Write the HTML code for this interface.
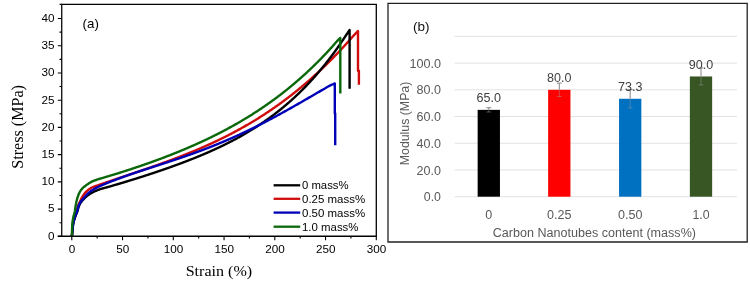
<!DOCTYPE html><html><head><meta charset="utf-8"><style>html,body{margin:0;padding:0;background:#fff;width:750px;height:284px;overflow:hidden}svg{display:block;will-change:transform}</style></head><body>
<svg width="750" height="284" viewBox="0 0 750 284">
<rect width="750" height="284" fill="#fff"/>
<g font-family="Liberation Sans, sans-serif" font-size="11" fill="#000">
<path d="M71.90,236.30 L71.99,235.18 L72.06,234.03 L72.13,232.87 L72.20,231.70 L72.26,230.54 L72.33,229.38 L72.41,228.23 L72.50,227.11 L72.59,226.02 L72.71,224.96 L72.84,223.95 L73.00,223.00 L73.13,222.33 L73.28,221.68 L73.43,221.04 L73.60,220.43 L73.77,219.83 L73.95,219.25 L74.13,218.68 L74.31,218.12 L74.49,217.58 L74.66,217.04 L74.83,216.52 L75.00,216.00 L75.13,215.60 L75.26,215.21 L75.38,214.84 L75.51,214.48 L75.64,214.12 L75.76,213.77 L75.89,213.42 L76.01,213.07 L76.14,212.72 L76.26,212.35 L76.38,211.98 L76.50,211.60 L76.63,211.16 L76.75,210.70 L76.87,210.23 L76.99,209.76 L77.10,209.28 L77.22,208.80 L77.33,208.32 L77.46,207.84 L77.58,207.36 L77.71,206.90 L77.85,206.44 L78.00,206.00 L78.15,205.60 L78.30,205.21 L78.45,204.83 L78.62,204.45 L78.78,204.08 L78.95,203.70 L79.12,203.34 L79.30,202.97 L79.47,202.60 L79.65,202.24 L79.82,201.87 L80.00,201.50 L80.17,201.13 L80.34,200.76 L80.51,200.39 L80.68,200.03 L80.86,199.66 L81.03,199.30 L81.21,198.93 L81.39,198.57 L81.58,198.20 L81.78,197.83 L81.98,197.47 L82.20,197.10 L82.45,196.69 L82.70,196.28 L82.96,195.86 L83.22,195.44 L83.50,195.02 L83.78,194.60 L84.07,194.18 L84.37,193.77 L84.68,193.37 L85.01,192.97 L85.35,192.58 L85.70,192.20 L86.10,191.79 L86.53,191.39 L86.96,190.99 L87.42,190.59 L87.89,190.20 L88.37,189.82 L88.86,189.45 L89.36,189.09 L89.86,188.75 L90.37,188.42 L90.89,188.10 L91.40,187.80 L91.92,187.52 L92.46,187.26 L93.00,187.02 L93.56,186.80 L94.13,186.58 L94.70,186.38 L95.26,186.18 L95.83,185.99 L96.39,185.81 L96.94,185.63 L97.48,185.44 L98.00,185.26 L98.44,185.10 L98.87,184.94 L99.30,184.79 L99.72,184.65 L100.13,184.50 L100.54,184.36 L100.95,184.23 L101.36,184.09 L101.77,183.95 L102.17,183.81 L102.59,183.67 L103.00,183.53 L103.42,183.38 L103.83,183.24 L104.25,183.10 L104.67,182.96 L105.08,182.81 L105.50,182.67 L105.92,182.53 L106.33,182.39 L106.75,182.24 L107.17,182.10 L107.58,181.96 L108.00,181.82 L108.42,181.68 L108.83,181.53 L109.25,181.39 L109.67,181.25 L110.08,181.11 L110.50,180.97 L110.92,180.83 L111.33,180.68 L111.75,180.54 L112.17,180.40 L112.58,180.26 L113.00,180.12 L113.42,179.98 L113.83,179.84 L114.25,179.70 L114.67,179.56 L115.08,179.42 L115.50,179.28 L115.92,179.14 L116.33,178.99 L116.75,178.85 L117.17,178.71 L117.58,178.57 L118.00,178.43 L118.42,178.29 L118.83,178.15 L119.25,178.01 L119.67,177.87 L120.08,177.73 L120.50,177.59 L120.92,177.45 L121.33,177.31 L121.75,177.17 L122.17,177.03 L122.58,176.89 L123.00,176.75 L123.42,176.61 L123.83,176.47 L124.25,176.33 L124.67,176.19 L125.08,176.05 L125.50,175.91 L125.92,175.77 L126.33,175.63 L126.75,175.49 L127.17,175.35 L127.58,175.21 L128.00,175.07 L128.42,174.93 L128.83,174.79 L129.25,174.65 L129.67,174.51 L130.08,174.37 L130.50,174.23 L130.92,174.09 L131.33,173.95 L131.75,173.81 L132.17,173.67 L132.58,173.53 L133.00,173.39 L133.42,173.25 L133.83,173.11 L134.25,172.96 L134.67,172.82 L135.08,172.68 L135.50,172.54 L135.92,172.40 L136.33,172.26 L136.75,172.12 L137.17,171.98 L137.58,171.84 L138.00,171.70 L138.42,171.55 L138.83,171.41 L139.25,171.27 L139.67,171.13 L140.08,170.99 L140.50,170.85 L140.92,170.70 L141.33,170.56 L141.75,170.42 L142.17,170.28 L142.58,170.14 L143.00,169.99 L143.42,169.85 L143.83,169.71 L144.25,169.56 L144.67,169.42 L145.08,169.28 L145.50,169.14 L145.92,168.99 L146.33,168.85 L146.75,168.71 L147.17,168.56 L147.58,168.42 L148.00,168.27 L148.42,168.13 L148.83,167.99 L149.25,167.84 L149.67,167.70 L150.08,167.55 L150.50,167.41 L150.92,167.26 L151.33,167.12 L151.75,166.97 L152.17,166.83 L152.58,166.68 L153.00,166.54 L153.42,166.39 L153.83,166.24 L154.25,166.10 L154.67,165.95 L155.08,165.81 L155.50,165.66 L155.92,165.51 L156.33,165.37 L156.75,165.22 L157.17,165.07 L157.58,164.92 L158.00,164.78 L158.42,164.63 L158.83,164.48 L159.25,164.33 L159.67,164.18 L160.08,164.03 L160.50,163.88 L160.92,163.73 L161.33,163.59 L161.75,163.44 L162.17,163.29 L162.58,163.14 L163.00,162.99 L163.42,162.83 L163.83,162.68 L164.25,162.53 L164.67,162.38 L165.08,162.23 L165.50,162.08 L165.92,161.93 L166.33,161.77 L166.75,161.62 L167.17,161.47 L167.58,161.32 L168.00,161.16 L168.42,161.01 L168.83,160.86 L169.25,160.70 L169.67,160.55 L170.08,160.39 L170.50,160.24 L170.92,160.08 L171.33,159.93 L171.75,159.77 L172.17,159.62 L172.58,159.46 L173.00,159.31 L173.42,159.15 L173.83,158.99 L174.25,158.84 L174.67,158.68 L175.08,158.52 L175.50,158.36 L175.92,158.20 L176.33,158.05 L176.75,157.89 L177.17,157.73 L177.58,157.57 L178.00,157.41 L178.42,157.25 L178.83,157.09 L179.25,156.93 L179.67,156.77 L180.08,156.60 L180.50,156.44 L180.92,156.28 L181.33,156.12 L181.75,155.96 L182.17,155.79 L182.58,155.63 L183.00,155.47 L183.42,155.30 L183.83,155.14 L184.25,154.97 L184.67,154.81 L185.08,154.64 L185.50,154.48 L185.92,154.31 L186.33,154.14 L186.75,153.98 L187.17,153.81 L187.58,153.64 L188.00,153.48 L188.42,153.31 L188.83,153.14 L189.25,152.97 L189.67,152.80 L190.08,152.63 L190.50,152.46 L190.92,152.29 L191.33,152.12 L191.75,151.95 L192.17,151.78 L192.58,151.61 L193.00,151.43 L193.42,151.26 L193.83,151.09 L194.25,150.91 L194.67,150.74 L195.08,150.57 L195.50,150.39 L195.92,150.22 L196.33,150.04 L196.75,149.87 L197.17,149.69 L197.58,149.51 L198.00,149.34 L198.42,149.16 L198.83,148.98 L199.25,148.80 L199.67,148.62 L200.08,148.44 L200.50,148.27 L200.92,148.09 L201.33,147.90 L201.75,147.72 L202.17,147.54 L202.58,147.36 L203.00,147.18 L203.42,147.00 L203.83,146.81 L204.25,146.63 L204.67,146.45 L205.08,146.26 L205.50,146.08 L205.92,145.89 L206.33,145.71 L206.75,145.52 L207.17,145.33 L207.58,145.15 L208.00,144.96 L208.42,144.77 L208.83,144.58 L209.25,144.39 L209.67,144.20 L210.08,144.01 L210.50,143.82 L210.92,143.63 L211.33,143.44 L211.75,143.25 L212.17,143.06 L212.58,142.86 L213.00,142.67 L213.42,142.48 L213.83,142.28 L214.25,142.09 L214.67,141.89 L215.09,141.69 L215.50,141.50 L215.92,141.30 L216.33,141.10 L216.75,140.91 L217.17,140.71 L217.58,140.51 L218.00,140.31 L218.42,140.11 L218.83,139.91 L219.25,139.71 L219.67,139.51 L220.09,139.30 L220.50,139.10 L220.92,138.90 L221.34,138.69 L221.75,138.49 L222.17,138.28 L222.58,138.08 L223.00,137.87 L223.42,137.67 L223.83,137.46 L224.25,137.25 L224.67,137.04 L225.09,136.84 L225.50,136.63 L225.92,136.42 L226.34,136.21 L226.75,136.00 L227.17,135.78 L227.58,135.57 L228.00,135.36 L228.42,135.15 L228.83,134.93 L229.25,134.72 L229.67,134.50 L230.09,134.29 L230.50,134.07 L230.92,133.85 L231.34,133.64 L231.75,133.42 L232.17,133.20 L232.58,132.98 L233.00,132.76 L233.42,132.54 L233.83,132.32 L234.25,132.10 L234.67,131.88 L235.09,131.65 L235.50,131.43 L235.92,131.21 L236.34,130.98 L236.75,130.76 L237.17,130.53 L237.58,130.31 L238.00,130.08 L238.42,129.85 L238.83,129.62 L239.25,129.39 L239.67,129.16 L240.09,128.93 L240.50,128.70 L240.92,128.47 L241.34,128.24 L241.75,128.01 L242.17,127.77 L242.58,127.54 L243.00,127.31 L243.42,127.07 L243.83,126.83 L244.25,126.60 L244.67,126.36 L245.09,126.12 L245.50,125.88 L245.92,125.64 L246.34,125.40 L246.75,125.16 L247.17,124.92 L247.58,124.68 L248.00,124.44 L248.42,124.20 L248.83,123.95 L249.25,123.71 L249.67,123.46 L250.09,123.21 L250.50,122.97 L250.92,122.72 L251.34,122.47 L251.75,122.22 L252.17,121.97 L252.58,121.73 L253.00,121.47 L253.42,121.22 L253.83,120.97 L254.25,120.72 L254.67,120.46 L255.09,120.21 L255.50,119.95 L255.92,119.70 L256.34,119.44 L256.75,119.18 L257.17,118.93 L257.58,118.67 L258.00,118.41 L258.42,118.15 L258.83,117.89 L259.25,117.62 L259.67,117.36 L260.09,117.10 L260.50,116.84 L260.92,116.57 L261.34,116.31 L261.75,116.04 L262.17,115.77 L262.58,115.51 L263.00,115.24 L263.42,114.97 L263.84,114.70 L264.25,114.43 L264.67,114.16 L265.09,113.88 L265.50,113.61 L265.92,113.34 L266.34,113.06 L266.75,112.79 L267.17,112.51 L267.58,112.24 L268.00,111.96 L268.42,111.68 L268.84,111.40 L269.25,111.12 L269.67,110.84 L270.09,110.56 L270.50,110.28 L270.92,109.99 L271.34,109.71 L271.75,109.43 L272.17,109.14 L272.58,108.85 L273.00,108.57 L273.42,108.28 L273.84,107.99 L274.25,107.70 L274.67,107.41 L275.09,107.12 L275.50,106.83 L275.92,106.54 L276.34,106.24 L276.75,105.95 L277.17,105.65 L277.58,105.36 L278.00,105.06 L278.42,104.76 L278.84,104.47 L279.25,104.17 L279.67,103.87 L280.09,103.56 L280.50,103.26 L280.92,102.96 L281.34,102.66 L281.75,102.35 L282.17,102.05 L282.58,101.74 L283.00,101.44 L283.42,101.13 L283.84,100.82 L284.25,100.51 L284.67,100.20 L285.09,99.89 L285.50,99.58 L285.92,99.26 L286.34,98.95 L286.75,98.64 L287.17,98.32 L287.58,98.01 L288.00,97.69 L288.42,97.37 L288.84,97.05 L289.25,96.73 L289.67,96.41 L290.09,96.09 L290.50,95.77 L290.92,95.44 L291.34,95.12 L291.75,94.79 L292.17,94.47 L292.58,94.14 L293.00,93.82 L293.42,93.49 L293.84,93.16 L294.25,92.83 L294.67,92.49 L295.09,92.16 L295.50,91.83 L295.92,91.49 L296.34,91.16 L296.75,90.82 L297.17,90.49 L297.58,90.15 L298.00,89.81 L298.42,89.47 L298.84,89.13 L299.25,88.79 L299.67,88.45 L300.09,88.10 L300.50,87.76 L300.92,87.41 L301.34,87.07 L301.75,86.72 L302.17,86.37 L302.58,86.03 L303.00,85.68 L303.42,85.33 L303.84,84.97 L304.25,84.62 L304.67,84.27 L305.09,83.91 L305.50,83.55 L305.92,83.20 L306.34,82.84 L306.75,82.48 L307.17,82.12 L307.58,81.77 L308.00,81.41 L308.42,81.04 L308.84,80.68 L309.25,80.31 L309.67,79.95 L310.09,79.58 L310.50,79.21 L310.92,78.84 L311.34,78.48 L311.75,78.11 L312.17,77.74 L312.58,77.37 L313.00,76.99 L313.42,76.62 L313.84,76.24 L314.25,75.87 L314.67,75.49 L315.09,75.11 L315.50,74.73 L315.92,74.35 L316.34,73.97 L316.75,73.59 L317.17,73.21 L317.58,72.82 L318.00,72.44 L318.42,72.05 L318.84,71.66 L319.25,71.27 L319.67,70.88 L320.09,70.49 L320.50,70.10 L320.92,69.71 L321.34,69.32 L321.75,68.92 L322.17,68.53 L322.58,68.13 L323.00,67.74 L323.42,67.34 L323.84,66.94 L324.25,66.54 L324.67,66.13 L325.09,65.73 L325.50,65.33 L325.92,64.92 L326.34,64.52 L326.75,64.11 L327.17,63.70 L327.58,63.30 L328.00,62.89 L328.42,62.47 L328.84,62.06 L329.25,61.65 L329.67,61.23 L330.09,60.82 L330.50,60.40 L330.92,59.98 L331.34,59.56 L331.75,59.14 L332.17,58.73 L332.58,58.30 L333.00,57.88 L333.42,57.46 L333.84,57.03 L334.25,56.60 L334.67,56.18 L335.09,55.75 L335.50,55.32 L335.92,54.89 L336.34,54.46 L336.75,54.02 L337.17,53.59 L337.58,53.16 L338.00,52.72 L338.42,52.28 L338.84,51.85 L339.25,51.40 L339.67,50.96 L340.09,50.52 L340.51,50.08 L340.92,49.63 L341.34,49.19 L341.75,48.74 L342.17,48.30 L342.58,47.85 L343.00,47.40 L343.42,46.95 L343.84,46.50 L344.25,46.04 L344.67,45.59 L345.09,45.13 L345.51,44.68 L345.92,44.22 L346.34,43.76 L346.75,43.30 L347.17,42.84 L347.58,42.38 L348.00,41.92 L348.42,41.45 L348.83,40.98 L349.25,40.51 L349.67,40.04 L350.08,39.56 L350.50,39.09 L350.91,38.61 L351.33,38.14 L351.74,37.67 L352.16,37.20 L352.58,36.74 L353.00,36.27 L353.41,35.83 L353.83,35.38 L354.24,34.94 L354.66,34.50 L355.08,34.06 L355.49,33.62 L355.91,33.18 L356.33,32.75 L356.75,32.31 L357.17,31.88 L357.58,31.44 L358.00,31.00 L358.00,70.70 L358.90,70.70 L358.90,84.80" fill="none" stroke="#d00c0c" stroke-width="2.4" stroke-linejoin="round" stroke-linecap="butt"/>
<path d="M71.90,236.30 L72.02,235.18 L72.13,234.03 L72.24,232.87 L72.34,231.70 L72.45,230.54 L72.55,229.37 L72.67,228.23 L72.79,227.11 L72.92,226.02 L73.06,224.96 L73.22,223.95 L73.40,223.00 L73.55,222.33 L73.70,221.67 L73.86,221.04 L74.03,220.43 L74.21,219.83 L74.39,219.24 L74.57,218.67 L74.76,218.12 L74.94,217.57 L75.13,217.04 L75.32,216.52 L75.50,216.00 L75.65,215.60 L75.80,215.21 L75.95,214.84 L76.10,214.47 L76.26,214.12 L76.41,213.77 L76.56,213.42 L76.72,213.07 L76.87,212.72 L77.01,212.36 L77.16,211.98 L77.30,211.60 L77.45,211.16 L77.59,210.69 L77.73,210.22 L77.86,209.74 L77.99,209.25 L78.12,208.76 L78.26,208.28 L78.39,207.80 L78.53,207.32 L78.68,206.86 L78.83,206.42 L79.00,206.00 L79.15,205.66 L79.29,205.32 L79.44,205.00 L79.60,204.68 L79.75,204.37 L79.92,204.07 L80.08,203.77 L80.25,203.47 L80.43,203.18 L80.61,202.89 L80.80,202.59 L81.00,202.30 L81.21,201.99 L81.44,201.69 L81.67,201.40 L81.90,201.10 L82.14,200.81 L82.39,200.52 L82.65,200.23 L82.91,199.95 L83.17,199.66 L83.44,199.37 L83.72,199.09 L84.00,198.80 L84.32,198.48 L84.65,198.15 L84.98,197.83 L85.32,197.50 L85.67,197.17 L86.03,196.85 L86.39,196.53 L86.76,196.21 L87.13,195.90 L87.51,195.59 L87.90,195.29 L88.30,195.00 L88.73,194.69 L89.18,194.39 L89.64,194.10 L90.10,193.81 L90.58,193.53 L91.06,193.25 L91.54,192.98 L92.03,192.71 L92.52,192.45 L93.02,192.19 L93.51,191.94 L94.00,191.70 L94.49,191.46 L94.99,191.23 L95.49,191.00 L95.99,190.78 L96.50,190.56 L97.01,190.35 L97.51,190.15 L98.02,189.95 L98.52,189.76 L99.02,189.57 L99.51,189.40 L100.00,189.23 L100.43,189.08 L100.85,188.95 L101.27,188.83 L101.69,188.71 L102.11,188.59 L102.52,188.48 L102.93,188.38 L103.35,188.27 L103.76,188.17 L104.17,188.06 L104.58,187.95 L105.00,187.84 L105.42,187.72 L105.83,187.60 L106.25,187.48 L106.67,187.37 L107.08,187.25 L107.50,187.13 L107.92,187.01 L108.33,186.89 L108.75,186.77 L109.17,186.65 L109.58,186.54 L110.00,186.42 L110.42,186.30 L110.83,186.18 L111.25,186.06 L111.67,185.94 L112.08,185.82 L112.50,185.70 L112.92,185.57 L113.33,185.45 L113.75,185.33 L114.17,185.21 L114.58,185.09 L115.00,184.97 L115.42,184.85 L115.83,184.72 L116.25,184.60 L116.67,184.48 L117.08,184.36 L117.50,184.23 L117.92,184.11 L118.33,183.99 L118.75,183.87 L119.17,183.74 L119.58,183.62 L120.00,183.49 L120.42,183.37 L120.83,183.25 L121.25,183.12 L121.67,183.00 L122.08,182.87 L122.50,182.75 L122.92,182.62 L123.33,182.50 L123.75,182.37 L124.17,182.25 L124.58,182.12 L125.00,181.99 L125.42,181.87 L125.83,181.74 L126.25,181.62 L126.67,181.49 L127.08,181.36 L127.50,181.23 L127.92,181.11 L128.33,180.98 L128.75,180.85 L129.17,180.72 L129.58,180.60 L130.00,180.47 L130.42,180.34 L130.83,180.21 L131.25,180.08 L131.67,179.95 L132.08,179.83 L132.50,179.70 L132.92,179.57 L133.33,179.44 L133.75,179.31 L134.17,179.18 L134.58,179.05 L135.00,178.92 L135.42,178.79 L135.83,178.66 L136.25,178.53 L136.67,178.40 L137.08,178.26 L137.50,178.13 L137.92,178.00 L138.33,177.87 L138.75,177.74 L139.17,177.61 L139.58,177.47 L140.00,177.34 L140.42,177.21 L140.83,177.08 L141.25,176.94 L141.67,176.81 L142.08,176.68 L142.50,176.54 L142.92,176.41 L143.33,176.28 L143.75,176.14 L144.17,176.01 L144.58,175.87 L145.00,175.74 L145.42,175.60 L145.83,175.47 L146.25,175.33 L146.67,175.20 L147.08,175.06 L147.50,174.93 L147.92,174.79 L148.33,174.65 L148.75,174.52 L149.17,174.38 L149.58,174.24 L150.00,174.11 L150.42,173.97 L150.83,173.83 L151.25,173.69 L151.67,173.56 L152.08,173.42 L152.50,173.28 L152.92,173.14 L153.33,173.00 L153.75,172.86 L154.17,172.73 L154.58,172.59 L155.00,172.45 L155.42,172.31 L155.83,172.17 L156.25,172.03 L156.67,171.89 L157.08,171.75 L157.50,171.61 L157.92,171.46 L158.33,171.32 L158.75,171.18 L159.17,171.04 L159.58,170.90 L160.00,170.76 L160.42,170.61 L160.83,170.47 L161.25,170.33 L161.67,170.19 L162.08,170.04 L162.50,169.90 L162.92,169.76 L163.33,169.61 L163.75,169.47 L164.17,169.32 L164.58,169.18 L165.00,169.03 L165.42,168.89 L165.83,168.74 L166.25,168.60 L166.67,168.45 L167.08,168.30 L167.50,168.16 L167.92,168.01 L168.33,167.86 L168.75,167.72 L169.17,167.57 L169.58,167.42 L170.00,167.27 L170.42,167.13 L170.83,166.98 L171.25,166.83 L171.67,166.68 L172.08,166.53 L172.50,166.38 L172.92,166.23 L173.33,166.08 L173.75,165.93 L174.17,165.78 L174.58,165.63 L175.00,165.48 L175.42,165.32 L175.83,165.17 L176.25,165.02 L176.67,164.87 L177.08,164.71 L177.50,164.56 L177.92,164.41 L178.33,164.25 L178.75,164.10 L179.17,163.95 L179.58,163.79 L180.00,163.64 L180.42,163.48 L180.83,163.33 L181.25,163.17 L181.67,163.01 L182.08,162.86 L182.50,162.70 L182.92,162.54 L183.33,162.39 L183.75,162.23 L184.17,162.07 L184.58,161.91 L185.00,161.75 L185.42,161.59 L185.83,161.43 L186.25,161.27 L186.67,161.11 L187.08,160.95 L187.50,160.79 L187.92,160.63 L188.33,160.47 L188.75,160.31 L189.17,160.14 L189.58,159.98 L190.00,159.82 L190.42,159.65 L190.83,159.49 L191.25,159.33 L191.67,159.16 L192.08,159.00 L192.50,158.83 L192.92,158.67 L193.33,158.50 L193.75,158.33 L194.17,158.17 L194.58,158.00 L195.00,157.83 L195.42,157.66 L195.83,157.49 L196.25,157.32 L196.67,157.16 L197.08,156.99 L197.50,156.82 L197.92,156.64 L198.33,156.47 L198.75,156.30 L199.17,156.13 L199.58,155.96 L200.00,155.79 L200.42,155.61 L200.83,155.44 L201.25,155.26 L201.67,155.09 L202.08,154.91 L202.50,154.74 L202.92,154.56 L203.33,154.39 L203.75,154.21 L204.17,154.03 L204.58,153.85 L205.00,153.68 L205.42,153.50 L205.83,153.32 L206.25,153.14 L206.67,152.96 L207.08,152.78 L207.50,152.60 L207.92,152.41 L208.33,152.23 L208.75,152.05 L209.17,151.87 L209.58,151.68 L210.00,151.50 L210.42,151.31 L210.83,151.13 L211.25,150.94 L211.67,150.76 L212.09,150.57 L212.50,150.38 L212.92,150.19 L213.33,150.00 L213.75,149.82 L214.17,149.63 L214.58,149.44 L215.00,149.25 L215.42,149.05 L215.83,148.86 L216.25,148.67 L216.67,148.48 L217.09,148.28 L217.50,148.09 L217.92,147.89 L218.34,147.70 L218.75,147.50 L219.17,147.31 L219.58,147.11 L220.00,146.91 L220.42,146.71 L220.83,146.51 L221.25,146.31 L221.67,146.11 L222.09,145.91 L222.50,145.71 L222.92,145.51 L223.34,145.31 L223.75,145.10 L224.17,144.90 L224.58,144.70 L225.00,144.49 L225.42,144.29 L225.83,144.08 L226.25,143.87 L226.67,143.66 L227.09,143.45 L227.50,143.24 L227.92,143.03 L228.34,142.82 L228.75,142.61 L229.17,142.40 L229.58,142.19 L230.00,141.98 L230.42,141.76 L230.83,141.55 L231.25,141.33 L231.67,141.11 L232.09,140.90 L232.50,140.68 L232.92,140.46 L233.34,140.24 L233.75,140.02 L234.17,139.80 L234.58,139.58 L235.00,139.36 L235.42,139.14 L235.83,138.91 L236.25,138.69 L236.67,138.46 L237.09,138.24 L237.50,138.01 L237.92,137.78 L238.34,137.55 L238.75,137.33 L239.17,137.10 L239.58,136.87 L240.00,136.63 L240.42,136.40 L240.84,136.17 L241.25,135.93 L241.67,135.70 L242.09,135.46 L242.50,135.23 L242.92,134.99 L243.34,134.75 L243.75,134.51 L244.17,134.27 L244.58,134.03 L245.00,133.79 L245.42,133.55 L245.84,133.30 L246.25,133.06 L246.67,132.81 L247.09,132.57 L247.50,132.32 L247.92,132.07 L248.34,131.83 L248.75,131.58 L249.17,131.33 L249.58,131.08 L250.00,130.82 L250.42,130.57 L250.84,130.32 L251.25,130.06 L251.67,129.80 L252.09,129.55 L252.50,129.29 L252.92,129.03 L253.34,128.77 L253.75,128.51 L254.17,128.25 L254.58,127.98 L255.00,127.72 L255.42,127.46 L255.84,127.19 L256.25,126.92 L256.67,126.65 L257.09,126.38 L257.50,126.11 L257.92,125.84 L258.34,125.57 L258.75,125.30 L259.17,125.03 L259.58,124.75 L260.00,124.48 L260.42,124.20 L260.84,123.92 L261.25,123.64 L261.67,123.36 L262.09,123.08 L262.50,122.79 L262.92,122.51 L263.34,122.23 L263.75,121.94 L264.17,121.65 L264.58,121.37 L265.00,121.08 L265.42,120.79 L265.84,120.49 L266.25,120.20 L266.67,119.91 L267.09,119.61 L267.50,119.32 L267.92,119.02 L268.34,118.72 L268.75,118.42 L269.17,118.12 L269.58,117.82 L270.00,117.52 L270.42,117.21 L270.84,116.91 L271.25,116.60 L271.67,116.29 L272.09,115.98 L272.51,115.67 L272.92,115.36 L273.34,115.05 L273.75,114.73 L274.17,114.42 L274.58,114.10 L275.00,113.79 L275.42,113.46 L275.84,113.14 L276.25,112.82 L276.67,112.50 L277.09,112.17 L277.51,111.85 L277.92,111.52 L278.34,111.19 L278.75,110.86 L279.17,110.53 L279.59,110.20 L280.00,109.87 L280.42,109.53 L280.84,109.20 L281.25,108.86 L281.67,108.52 L282.09,108.18 L282.51,107.83 L282.92,107.49 L283.34,107.15 L283.75,106.80 L284.17,106.46 L284.59,106.11 L285.00,105.76 L285.42,105.41 L285.84,105.05 L286.25,104.70 L286.67,104.34 L287.09,103.98 L287.51,103.62 L287.92,103.26 L288.34,102.90 L288.75,102.54 L289.17,102.17 L289.59,101.81 L290.00,101.44 L290.42,101.07 L290.84,100.70 L291.26,100.33 L291.67,99.95 L292.09,99.58 L292.51,99.20 L292.92,98.82 L293.34,98.44 L293.76,98.06 L294.17,97.68 L294.59,97.30 L295.00,96.91 L295.42,96.52 L295.84,96.13 L296.26,95.74 L296.67,95.34 L297.09,94.95 L297.51,94.55 L297.92,94.16 L298.34,93.76 L298.76,93.36 L299.17,92.96 L299.59,92.55 L300.00,92.15 L300.42,91.74 L300.84,91.33 L301.26,90.92 L301.67,90.50 L302.09,90.09 L302.51,89.67 L302.92,89.25 L303.34,88.84 L303.76,88.42 L304.17,87.99 L304.59,87.57 L305.00,87.15 L305.42,86.72 L305.84,86.29 L306.26,85.85 L306.67,85.42 L307.09,84.98 L307.51,84.54 L307.92,84.11 L308.34,83.67 L308.76,83.22 L309.17,82.78 L309.59,82.34 L310.00,81.89 L310.42,81.44 L310.84,80.99 L311.26,80.53 L311.67,80.07 L312.09,79.61 L312.51,79.16 L312.92,78.69 L313.34,78.23 L313.76,77.77 L314.17,77.30 L314.59,76.84 L315.00,76.37 L315.42,75.89 L315.84,75.42 L316.26,74.94 L316.67,74.46 L317.09,73.98 L317.51,73.49 L317.93,73.01 L318.34,72.52 L318.76,72.04 L319.17,71.55 L319.59,71.06 L320.00,70.57 L320.42,70.07 L320.84,69.56 L321.26,69.06 L321.67,68.56 L322.09,68.05 L322.51,67.54 L322.93,67.03 L323.34,66.52 L323.76,66.01 L324.17,65.50 L324.59,64.98 L325.00,64.47 L325.42,63.94 L325.84,63.41 L326.26,62.89 L326.68,62.36 L327.09,61.82 L327.51,61.29 L327.93,60.76 L328.34,60.22 L328.76,59.68 L329.17,59.14 L329.59,58.60 L330.00,58.06 L330.42,57.51 L330.84,56.96 L331.26,56.40 L331.68,55.84 L332.09,55.28 L332.51,54.72 L332.93,54.16 L333.34,53.60 L333.76,53.04 L334.17,52.47 L334.59,51.90 L335.00,51.33 L335.42,50.75 L335.84,50.17 L336.26,49.59 L336.68,49.00 L337.09,48.42 L337.51,47.83 L337.93,47.24 L338.34,46.65 L338.76,46.05 L339.17,45.46 L339.59,44.86 L340.00,44.27 L340.42,43.65 L340.84,43.04 L341.26,42.42 L341.68,41.80 L342.10,41.18 L342.52,40.55 L342.94,39.93 L343.35,39.31 L343.77,38.68 L344.18,38.07 L344.59,37.45 L345.00,36.85 L345.39,36.27 L345.78,35.69 L346.16,35.11 L346.55,34.54 L346.93,33.97 L347.31,33.41 L347.69,32.84 L348.07,32.27 L348.45,31.70 L348.84,31.14 L349.22,30.57 L349.60,30.00 L349.60,88.80" fill="none" stroke="#000000" stroke-width="2.4" stroke-linejoin="round" stroke-linecap="butt"/>
<path d="M71.90,236.30 L72.01,235.18 L72.12,234.03 L72.21,232.87 L72.31,231.70 L72.41,230.54 L72.51,229.38 L72.61,228.23 L72.72,227.11 L72.84,226.02 L72.98,224.96 L73.13,223.95 L73.30,223.00 L73.44,222.33 L73.58,221.68 L73.74,221.04 L73.90,220.43 L74.07,219.83 L74.24,219.24 L74.42,218.68 L74.59,218.12 L74.77,217.57 L74.95,217.04 L75.13,216.52 L75.30,216.00 L75.44,215.60 L75.58,215.21 L75.73,214.84 L75.87,214.47 L76.02,214.12 L76.16,213.77 L76.31,213.42 L76.45,213.07 L76.59,212.72 L76.73,212.36 L76.87,211.98 L77.00,211.60 L77.14,211.16 L77.28,210.70 L77.40,210.23 L77.53,209.75 L77.65,209.26 L77.77,208.78 L77.90,208.29 L78.02,207.81 L78.16,207.34 L78.29,206.88 L78.44,206.43 L78.60,206.00 L78.74,205.64 L78.89,205.28 L79.04,204.93 L79.19,204.59 L79.35,204.25 L79.51,203.92 L79.68,203.59 L79.85,203.27 L80.02,202.95 L80.21,202.63 L80.40,202.32 L80.60,202.00 L80.81,201.68 L81.04,201.36 L81.27,201.05 L81.51,200.75 L81.75,200.45 L82.00,200.15 L82.26,199.85 L82.52,199.54 L82.79,199.24 L83.05,198.93 L83.33,198.62 L83.60,198.30 L83.92,197.92 L84.24,197.54 L84.57,197.14 L84.90,196.74 L85.24,196.34 L85.58,195.93 L85.93,195.53 L86.29,195.13 L86.65,194.74 L87.02,194.35 L87.41,193.97 L87.80,193.60 L88.23,193.22 L88.67,192.84 L89.13,192.47 L89.60,192.10 L90.07,191.73 L90.56,191.38 L91.05,191.03 L91.54,190.68 L92.03,190.35 L92.52,190.02 L93.01,189.71 L93.50,189.40 L93.95,189.12 L94.41,188.85 L94.87,188.59 L95.33,188.34 L95.79,188.09 L96.25,187.86 L96.71,187.62 L97.17,187.39 L97.63,187.17 L98.09,186.95 L98.55,186.73 L99.00,186.51 L99.42,186.31 L99.84,186.12 L100.26,185.93 L100.68,185.75 L101.09,185.57 L101.51,185.40 L101.92,185.22 L102.34,185.05 L102.75,184.88 L103.17,184.71 L103.58,184.53 L104.00,184.36 L104.42,184.18 L104.83,184.01 L105.25,183.84 L105.66,183.66 L106.08,183.49 L106.50,183.32 L106.91,183.15 L107.33,182.98 L107.75,182.81 L108.17,182.64 L108.58,182.47 L109.00,182.31 L109.42,182.14 L109.83,181.97 L110.25,181.81 L110.67,181.64 L111.08,181.48 L111.50,181.32 L111.91,181.15 L112.33,180.99 L112.75,180.83 L113.17,180.67 L113.58,180.51 L114.00,180.34 L114.42,180.19 L114.83,180.03 L115.25,179.87 L115.67,179.71 L116.08,179.55 L116.50,179.39 L116.92,179.24 L117.33,179.08 L117.75,178.93 L118.17,178.77 L118.58,178.62 L119.00,178.46 L119.42,178.31 L119.83,178.15 L120.25,178.00 L120.67,177.85 L121.08,177.70 L121.50,177.55 L121.92,177.40 L122.33,177.24 L122.75,177.09 L123.17,176.94 L123.58,176.79 L124.00,176.65 L124.42,176.50 L124.83,176.35 L125.25,176.20 L125.67,176.05 L126.08,175.91 L126.50,175.76 L126.92,175.61 L127.33,175.47 L127.75,175.32 L128.17,175.18 L128.58,175.03 L129.00,174.89 L129.42,174.74 L129.83,174.60 L130.25,174.45 L130.67,174.31 L131.08,174.17 L131.50,174.02 L131.92,173.88 L132.33,173.74 L132.75,173.60 L133.17,173.46 L133.58,173.31 L134.00,173.17 L134.42,173.03 L134.83,172.89 L135.25,172.75 L135.67,172.61 L136.08,172.47 L136.50,172.33 L136.92,172.19 L137.33,172.05 L137.75,171.91 L138.17,171.77 L138.58,171.64 L139.00,171.50 L139.42,171.36 L139.83,171.22 L140.25,171.08 L140.67,170.94 L141.08,170.81 L141.50,170.67 L141.92,170.53 L142.33,170.40 L142.75,170.26 L143.17,170.12 L143.58,169.98 L144.00,169.85 L144.42,169.71 L144.83,169.57 L145.25,169.44 L145.67,169.30 L146.08,169.17 L146.50,169.03 L146.92,168.90 L147.33,168.76 L147.75,168.62 L148.17,168.49 L148.58,168.35 L149.00,168.22 L149.42,168.08 L149.83,167.95 L150.25,167.81 L150.67,167.68 L151.08,167.54 L151.50,167.41 L151.92,167.27 L152.33,167.14 L152.75,167.00 L153.17,166.87 L153.58,166.73 L154.00,166.60 L154.42,166.46 L154.83,166.33 L155.25,166.19 L155.67,166.06 L156.08,165.92 L156.50,165.79 L156.92,165.65 L157.33,165.52 L157.75,165.38 L158.17,165.25 L158.58,165.11 L159.00,164.98 L159.42,164.84 L159.83,164.71 L160.25,164.57 L160.67,164.44 L161.08,164.30 L161.50,164.17 L161.92,164.03 L162.33,163.90 L162.75,163.76 L163.17,163.63 L163.58,163.49 L164.00,163.36 L164.42,163.22 L164.83,163.09 L165.25,162.95 L165.67,162.81 L166.08,162.68 L166.50,162.54 L166.92,162.41 L167.33,162.27 L167.75,162.13 L168.17,162.00 L168.58,161.86 L169.00,161.72 L169.42,161.59 L169.83,161.45 L170.25,161.31 L170.67,161.17 L171.08,161.04 L171.50,160.90 L171.92,160.76 L172.33,160.62 L172.75,160.48 L173.17,160.35 L173.58,160.21 L174.00,160.07 L174.42,159.93 L174.83,159.79 L175.25,159.65 L175.67,159.51 L176.08,159.37 L176.50,159.23 L176.92,159.09 L177.33,158.95 L177.75,158.81 L178.17,158.67 L178.58,158.53 L179.00,158.39 L179.42,158.25 L179.83,158.11 L180.25,157.97 L180.67,157.83 L181.08,157.68 L181.50,157.54 L181.92,157.40 L182.33,157.26 L182.75,157.11 L183.17,156.97 L183.58,156.83 L184.00,156.68 L184.42,156.54 L184.83,156.40 L185.25,156.25 L185.67,156.11 L186.08,155.96 L186.50,155.82 L186.92,155.67 L187.33,155.53 L187.75,155.38 L188.17,155.23 L188.58,155.09 L189.00,154.94 L189.42,154.79 L189.83,154.65 L190.25,154.50 L190.67,154.35 L191.08,154.20 L191.50,154.05 L191.92,153.91 L192.33,153.76 L192.75,153.61 L193.17,153.46 L193.58,153.31 L194.00,153.16 L194.42,153.01 L194.83,152.86 L195.25,152.71 L195.67,152.55 L196.08,152.40 L196.50,152.25 L196.92,152.10 L197.33,151.95 L197.75,151.79 L198.17,151.64 L198.58,151.49 L199.00,151.33 L199.42,151.18 L199.83,151.02 L200.25,150.87 L200.67,150.71 L201.08,150.56 L201.50,150.40 L201.92,150.25 L202.33,150.09 L202.75,149.93 L203.17,149.77 L203.58,149.62 L204.00,149.46 L204.42,149.30 L204.83,149.14 L205.25,148.98 L205.67,148.82 L206.08,148.66 L206.50,148.50 L206.92,148.34 L207.33,148.18 L207.75,148.02 L208.17,147.86 L208.58,147.70 L209.00,147.54 L209.42,147.37 L209.83,147.21 L210.25,147.05 L210.67,146.88 L211.08,146.72 L211.50,146.55 L211.92,146.39 L212.33,146.22 L212.75,146.06 L213.17,145.89 L213.58,145.72 L214.00,145.56 L214.42,145.39 L214.83,145.22 L215.25,145.05 L215.67,144.89 L216.08,144.72 L216.50,144.55 L216.92,144.38 L217.33,144.21 L217.75,144.04 L218.17,143.87 L218.58,143.70 L219.00,143.52 L219.42,143.35 L219.83,143.18 L220.25,143.01 L220.67,142.83 L221.08,142.66 L221.50,142.49 L221.92,142.31 L222.33,142.14 L222.75,141.96 L223.17,141.79 L223.58,141.61 L224.00,141.43 L224.42,141.26 L224.83,141.08 L225.25,140.90 L225.67,140.72 L226.08,140.55 L226.50,140.37 L226.92,140.19 L227.33,140.01 L227.75,139.83 L228.17,139.65 L228.58,139.47 L229.00,139.28 L229.42,139.10 L229.83,138.92 L230.25,138.74 L230.67,138.55 L231.08,138.37 L231.50,138.19 L231.92,138.00 L232.33,137.82 L232.75,137.63 L233.17,137.45 L233.58,137.26 L234.00,137.08 L234.42,136.89 L234.83,136.70 L235.25,136.51 L235.67,136.33 L236.08,136.14 L236.50,135.95 L236.92,135.76 L237.33,135.57 L237.75,135.38 L238.17,135.19 L238.58,135.00 L239.00,134.81 L239.42,134.62 L239.83,134.42 L240.25,134.23 L240.67,134.04 L241.08,133.84 L241.50,133.65 L241.92,133.46 L242.33,133.26 L242.75,133.07 L243.17,132.87 L243.58,132.67 L244.00,132.48 L244.42,132.28 L244.83,132.08 L245.25,131.89 L245.67,131.69 L246.08,131.49 L246.50,131.29 L246.92,131.09 L247.33,130.89 L247.75,130.69 L248.17,130.49 L248.58,130.29 L249.00,130.09 L249.42,129.89 L249.83,129.69 L250.25,129.48 L250.67,129.28 L251.08,129.08 L251.50,128.87 L251.92,128.67 L252.33,128.47 L252.75,128.26 L253.17,128.06 L253.58,127.85 L254.00,127.64 L254.42,127.44 L254.83,127.23 L255.25,127.02 L255.67,126.82 L256.08,126.61 L256.50,126.40 L256.92,126.19 L257.33,125.98 L257.75,125.77 L258.17,125.56 L258.58,125.35 L259.00,125.14 L259.42,124.93 L259.83,124.72 L260.25,124.51 L260.67,124.29 L261.08,124.08 L261.50,123.87 L261.92,123.65 L262.33,123.44 L262.75,123.23 L263.17,123.01 L263.58,122.80 L264.00,122.58 L264.42,122.37 L264.83,122.15 L265.25,121.93 L265.67,121.72 L266.08,121.50 L266.50,121.28 L266.92,121.07 L267.33,120.85 L267.75,120.63 L268.17,120.41 L268.58,120.19 L269.00,119.97 L269.42,119.75 L269.83,119.53 L270.25,119.31 L270.67,119.09 L271.08,118.87 L271.50,118.65 L271.92,118.43 L272.33,118.20 L272.75,117.98 L273.17,117.76 L273.58,117.54 L274.00,117.31 L274.42,117.09 L274.83,116.86 L275.25,116.64 L275.67,116.41 L276.08,116.19 L276.50,115.96 L276.92,115.74 L277.33,115.51 L277.75,115.29 L278.17,115.06 L278.58,114.83 L279.00,114.61 L279.42,114.38 L279.83,114.15 L280.25,113.92 L280.67,113.69 L281.08,113.46 L281.50,113.24 L281.92,113.01 L282.33,112.78 L282.75,112.55 L283.17,112.32 L283.58,112.09 L284.00,111.86 L284.42,111.63 L284.83,111.39 L285.25,111.16 L285.67,110.93 L286.08,110.70 L286.50,110.47 L286.92,110.23 L287.33,110.00 L287.75,109.77 L288.17,109.54 L288.58,109.30 L289.00,109.07 L289.42,108.84 L289.83,108.60 L290.25,108.37 L290.67,108.13 L291.08,107.90 L291.50,107.66 L291.92,107.43 L292.33,107.19 L292.75,106.96 L293.17,106.72 L293.58,106.48 L294.00,106.25 L294.42,106.01 L294.83,105.78 L295.25,105.54 L295.67,105.30 L296.08,105.06 L296.50,104.83 L296.92,104.59 L297.33,104.35 L297.75,104.11 L298.17,103.88 L298.58,103.64 L299.00,103.40 L299.42,103.16 L299.83,102.92 L300.25,102.68 L300.67,102.45 L301.08,102.21 L301.50,101.97 L301.92,101.73 L302.33,101.49 L302.75,101.25 L303.17,101.01 L303.58,100.77 L304.00,100.53 L304.42,100.29 L304.83,100.05 L305.25,99.81 L305.67,99.57 L306.08,99.33 L306.50,99.09 L306.92,98.85 L307.33,98.61 L307.75,98.36 L308.17,98.12 L308.58,97.88 L309.00,97.64 L309.42,97.40 L309.83,97.16 L310.25,96.92 L310.67,96.68 L311.08,96.44 L311.50,96.19 L311.92,95.95 L312.33,95.71 L312.75,95.47 L313.17,95.23 L313.58,94.99 L314.00,94.74 L314.42,94.50 L314.83,94.26 L315.25,94.02 L315.67,93.78 L316.08,93.54 L316.50,93.29 L316.92,93.05 L317.33,92.81 L317.75,92.57 L318.17,92.33 L318.58,92.09 L319.00,91.85 L319.42,91.60 L319.83,91.36 L320.25,91.12 L320.67,90.88 L321.08,90.64 L321.50,90.40 L321.92,90.16 L322.33,89.91 L322.75,89.67 L323.17,89.43 L323.58,89.19 L324.00,88.95 L324.41,88.71 L324.83,88.47 L325.24,88.22 L325.65,87.98 L326.06,87.73 L326.47,87.49 L326.88,87.25 L327.30,87.00 L327.71,86.77 L328.14,86.53 L328.57,86.30 L329.00,86.07 L329.46,85.83 L329.93,85.60 L330.41,85.38 L330.89,85.15 L331.38,84.93 L331.87,84.71 L332.36,84.49 L332.85,84.28 L333.34,84.06 L333.83,83.84 L334.31,83.62 L334.80,83.40 L334.80,113.40 L335.20,113.40 L335.20,145.20" fill="none" stroke="#0000b8" stroke-width="2.4" stroke-linejoin="round" stroke-linecap="butt"/>
<path d="M71.90,236.30 L71.94,235.18 L71.97,234.03 L71.99,232.87 L72.02,231.71 L72.04,230.54 L72.07,229.38 L72.10,228.24 L72.14,227.12 L72.18,226.02 L72.24,224.97 L72.31,223.96 L72.40,223.00 L72.47,222.33 L72.56,221.68 L72.65,221.05 L72.74,220.44 L72.84,219.84 L72.94,219.25 L73.05,218.68 L73.16,218.13 L73.27,217.58 L73.38,217.04 L73.49,216.52 L73.60,216.00 L73.69,215.60 L73.78,215.21 L73.87,214.84 L73.97,214.48 L74.06,214.12 L74.16,213.77 L74.26,213.42 L74.35,213.07 L74.44,212.72 L74.53,212.35 L74.62,211.98 L74.70,211.60 L74.79,211.16 L74.87,210.71 L74.94,210.25 L75.02,209.78 L75.09,209.31 L75.16,208.84 L75.23,208.36 L75.30,207.89 L75.37,207.41 L75.44,206.94 L75.52,206.47 L75.60,206.00 L75.68,205.54 L75.76,205.08 L75.84,204.63 L75.92,204.17 L76.01,203.72 L76.09,203.26 L76.18,202.81 L76.27,202.35 L76.37,201.89 L76.47,201.43 L76.58,200.97 L76.70,200.50 L76.83,199.99 L76.97,199.47 L77.12,198.95 L77.27,198.42 L77.42,197.89 L77.58,197.36 L77.75,196.83 L77.92,196.31 L78.11,195.79 L78.30,195.28 L78.49,194.78 L78.70,194.30 L78.90,193.86 L79.10,193.42 L79.30,192.99 L79.51,192.56 L79.73,192.14 L79.96,191.73 L80.19,191.32 L80.43,190.92 L80.68,190.53 L80.94,190.14 L81.22,189.77 L81.50,189.40 L81.80,189.04 L82.11,188.70 L82.43,188.36 L82.76,188.04 L83.10,187.72 L83.45,187.41 L83.81,187.10 L84.18,186.80 L84.55,186.50 L84.93,186.20 L85.31,185.90 L85.70,185.60 L86.13,185.27 L86.57,184.94 L87.03,184.61 L87.49,184.29 L87.96,183.97 L88.43,183.65 L88.91,183.34 L89.40,183.03 L89.90,182.73 L90.39,182.45 L90.90,182.17 L91.40,181.90 L91.93,181.64 L92.46,181.39 L93.01,181.14 L93.57,180.91 L94.14,180.68 L94.70,180.46 L95.27,180.25 L95.83,180.05 L96.39,179.85 L96.94,179.66 L97.48,179.48 L98.00,179.30 L98.44,179.15 L98.87,179.01 L99.29,178.88 L99.71,178.76 L100.13,178.64 L100.54,178.52 L100.95,178.41 L101.36,178.30 L101.76,178.19 L102.17,178.07 L102.59,177.96 L103.00,177.84 L103.42,177.71 L103.83,177.59 L104.25,177.47 L104.67,177.34 L105.08,177.22 L105.50,177.09 L105.92,176.97 L106.33,176.85 L106.75,176.72 L107.17,176.60 L107.58,176.47 L108.00,176.35 L108.42,176.22 L108.83,176.09 L109.25,175.97 L109.67,175.84 L110.08,175.72 L110.50,175.59 L110.92,175.46 L111.33,175.34 L111.75,175.21 L112.17,175.08 L112.58,174.96 L113.00,174.83 L113.42,174.70 L113.83,174.57 L114.25,174.44 L114.67,174.31 L115.08,174.19 L115.50,174.06 L115.92,173.93 L116.33,173.80 L116.75,173.67 L117.17,173.54 L117.58,173.41 L118.00,173.28 L118.42,173.15 L118.83,173.02 L119.25,172.89 L119.67,172.76 L120.08,172.63 L120.50,172.49 L120.92,172.36 L121.33,172.23 L121.75,172.10 L122.17,171.97 L122.58,171.83 L123.00,171.70 L123.42,171.57 L123.83,171.43 L124.25,171.30 L124.67,171.17 L125.08,171.03 L125.50,170.90 L125.92,170.77 L126.33,170.63 L126.75,170.50 L127.17,170.36 L127.58,170.23 L128.00,170.09 L128.42,169.96 L128.83,169.82 L129.25,169.68 L129.67,169.55 L130.08,169.41 L130.50,169.27 L130.92,169.14 L131.33,169.00 L131.75,168.86 L132.17,168.73 L132.58,168.59 L133.00,168.45 L133.42,168.31 L133.83,168.17 L134.25,168.03 L134.67,167.89 L135.08,167.75 L135.50,167.62 L135.92,167.48 L136.33,167.34 L136.75,167.20 L137.17,167.06 L137.58,166.91 L138.00,166.77 L138.42,166.63 L138.83,166.49 L139.25,166.35 L139.67,166.21 L140.08,166.06 L140.50,165.92 L140.92,165.78 L141.33,165.64 L141.75,165.49 L142.17,165.35 L142.58,165.21 L143.00,165.06 L143.42,164.92 L143.83,164.77 L144.25,164.63 L144.67,164.48 L145.08,164.34 L145.50,164.19 L145.92,164.05 L146.33,163.90 L146.75,163.75 L147.17,163.61 L147.58,163.46 L148.00,163.31 L148.42,163.17 L148.83,163.02 L149.25,162.87 L149.67,162.72 L150.08,162.57 L150.50,162.43 L150.92,162.28 L151.33,162.13 L151.75,161.98 L152.17,161.83 L152.58,161.68 L153.00,161.53 L153.42,161.38 L153.83,161.23 L154.25,161.08 L154.67,160.92 L155.08,160.77 L155.50,160.62 L155.92,160.47 L156.33,160.31 L156.75,160.16 L157.17,160.01 L157.58,159.86 L158.00,159.70 L158.42,159.55 L158.83,159.39 L159.25,159.24 L159.67,159.08 L160.08,158.93 L160.50,158.77 L160.92,158.62 L161.33,158.46 L161.75,158.30 L162.17,158.15 L162.58,157.99 L163.00,157.83 L163.42,157.68 L163.83,157.52 L164.25,157.36 L164.67,157.20 L165.08,157.04 L165.50,156.88 L165.92,156.72 L166.33,156.56 L166.75,156.40 L167.17,156.24 L167.58,156.08 L168.00,155.92 L168.42,155.76 L168.83,155.60 L169.25,155.43 L169.67,155.27 L170.08,155.11 L170.50,154.95 L170.92,154.78 L171.33,154.62 L171.75,154.45 L172.17,154.29 L172.58,154.13 L173.00,153.96 L173.42,153.79 L173.83,153.63 L174.25,153.46 L174.67,153.30 L175.08,153.13 L175.50,152.96 L175.92,152.79 L176.33,152.63 L176.75,152.46 L177.17,152.29 L177.58,152.12 L178.00,151.95 L178.42,151.78 L178.83,151.61 L179.25,151.44 L179.67,151.27 L180.08,151.10 L180.50,150.93 L180.92,150.76 L181.33,150.58 L181.75,150.41 L182.17,150.24 L182.58,150.06 L183.00,149.89 L183.42,149.72 L183.83,149.54 L184.25,149.37 L184.67,149.19 L185.08,149.02 L185.50,148.84 L185.92,148.66 L186.33,148.49 L186.75,148.31 L187.17,148.13 L187.58,147.95 L188.00,147.78 L188.42,147.60 L188.83,147.42 L189.25,147.24 L189.67,147.06 L190.08,146.88 L190.50,146.70 L190.92,146.52 L191.33,146.33 L191.75,146.15 L192.17,145.97 L192.58,145.79 L193.00,145.60 L193.42,145.42 L193.83,145.24 L194.25,145.05 L194.67,144.87 L195.08,144.68 L195.50,144.50 L195.92,144.31 L196.33,144.12 L196.75,143.94 L197.17,143.75 L197.58,143.56 L198.00,143.37 L198.42,143.18 L198.83,142.99 L199.25,142.80 L199.67,142.61 L200.08,142.42 L200.50,142.23 L200.92,142.04 L201.33,141.85 L201.75,141.66 L202.17,141.47 L202.58,141.27 L203.00,141.08 L203.42,140.88 L203.83,140.69 L204.25,140.49 L204.67,140.30 L205.08,140.10 L205.50,139.91 L205.92,139.71 L206.33,139.51 L206.75,139.31 L207.17,139.12 L207.58,138.92 L208.00,138.72 L208.42,138.52 L208.83,138.32 L209.25,138.12 L209.67,137.91 L210.09,137.71 L210.50,137.51 L210.92,137.31 L211.33,137.10 L211.75,136.90 L212.17,136.70 L212.58,136.49 L213.00,136.29 L213.42,136.08 L213.83,135.87 L214.25,135.67 L214.67,135.46 L215.09,135.25 L215.50,135.04 L215.92,134.83 L216.34,134.62 L216.75,134.41 L217.17,134.20 L217.58,133.99 L218.00,133.78 L218.42,133.57 L218.83,133.36 L219.25,133.14 L219.67,132.93 L220.09,132.72 L220.50,132.50 L220.92,132.29 L221.34,132.07 L221.75,131.85 L222.17,131.64 L222.58,131.42 L223.00,131.20 L223.42,130.98 L223.83,130.76 L224.25,130.54 L224.67,130.32 L225.09,130.10 L225.50,129.88 L225.92,129.66 L226.34,129.44 L226.75,129.21 L227.17,128.99 L227.58,128.76 L228.00,128.54 L228.42,128.31 L228.83,128.09 L229.25,127.86 L229.67,127.63 L230.09,127.40 L230.50,127.18 L230.92,126.95 L231.34,126.72 L231.75,126.49 L232.17,126.26 L232.58,126.03 L233.00,125.79 L233.42,125.56 L233.83,125.33 L234.25,125.09 L234.67,124.86 L235.09,124.62 L235.50,124.39 L235.92,124.15 L236.34,123.91 L236.75,123.68 L237.17,123.44 L237.58,123.20 L238.00,122.96 L238.42,122.72 L238.83,122.48 L239.25,122.23 L239.67,121.99 L240.09,121.75 L240.50,121.51 L240.92,121.26 L241.34,121.02 L241.75,120.77 L242.17,120.52 L242.58,120.28 L243.00,120.03 L243.42,119.78 L243.83,119.53 L244.25,119.28 L244.67,119.03 L245.09,118.78 L245.50,118.53 L245.92,118.28 L246.34,118.02 L246.75,117.77 L247.17,117.52 L247.58,117.26 L248.00,117.01 L248.42,116.75 L248.83,116.49 L249.25,116.23 L249.67,115.97 L250.09,115.71 L250.50,115.45 L250.92,115.19 L251.34,114.93 L251.75,114.67 L252.17,114.41 L252.58,114.14 L253.00,113.88 L253.42,113.61 L253.84,113.35 L254.25,113.08 L254.67,112.81 L255.09,112.54 L255.50,112.27 L255.92,112.00 L256.34,111.73 L256.75,111.46 L257.17,111.19 L257.58,110.92 L258.00,110.65 L258.42,110.37 L258.84,110.10 L259.25,109.82 L259.67,109.54 L260.09,109.26 L260.50,108.99 L260.92,108.71 L261.34,108.43 L261.75,108.15 L262.17,107.87 L262.58,107.58 L263.00,107.30 L263.42,107.02 L263.84,106.73 L264.25,106.45 L264.67,106.16 L265.09,105.87 L265.50,105.58 L265.92,105.30 L266.34,105.01 L266.75,104.72 L267.17,104.42 L267.58,104.13 L268.00,103.84 L268.42,103.55 L268.84,103.25 L269.25,102.96 L269.67,102.66 L270.09,102.36 L270.50,102.06 L270.92,101.76 L271.34,101.46 L271.75,101.16 L272.17,100.86 L272.58,100.56 L273.00,100.26 L273.42,99.95 L273.84,99.65 L274.25,99.34 L274.67,99.04 L275.09,98.73 L275.50,98.42 L275.92,98.11 L276.34,97.80 L276.75,97.49 L277.17,97.18 L277.58,96.86 L278.00,96.55 L278.42,96.24 L278.84,95.92 L279.25,95.60 L279.67,95.28 L280.09,94.97 L280.50,94.65 L280.92,94.33 L281.34,94.00 L281.75,93.68 L282.17,93.36 L282.58,93.04 L283.00,92.71 L283.42,92.39 L283.84,92.06 L284.25,91.73 L284.67,91.40 L285.09,91.07 L285.50,90.74 L285.92,90.41 L286.34,90.07 L286.75,89.74 L287.17,89.41 L287.58,89.07 L288.00,88.74 L288.42,88.40 L288.84,88.06 L289.25,87.72 L289.67,87.38 L290.09,87.03 L290.50,86.69 L290.92,86.35 L291.34,86.00 L291.75,85.66 L292.17,85.31 L292.58,84.96 L293.00,84.62 L293.42,84.27 L293.84,83.91 L294.25,83.56 L294.67,83.21 L295.09,82.85 L295.50,82.50 L295.92,82.14 L296.34,81.78 L296.75,81.43 L297.17,81.07 L297.58,80.71 L298.00,80.35 L298.42,79.98 L298.84,79.62 L299.25,79.25 L299.67,78.89 L300.09,78.52 L300.50,78.15 L300.92,77.78 L301.34,77.41 L301.75,77.04 L302.17,76.67 L302.58,76.30 L303.00,75.93 L303.42,75.55 L303.84,75.17 L304.25,74.79 L304.67,74.41 L305.09,74.03 L305.51,73.65 L305.92,73.27 L306.34,72.89 L306.75,72.50 L307.17,72.12 L307.58,71.73 L308.00,71.34 L308.42,70.95 L308.84,70.56 L309.25,70.17 L309.67,69.78 L310.09,69.38 L310.51,68.99 L310.92,68.59 L311.34,68.19 L311.75,67.79 L312.17,67.40 L312.58,67.00 L313.00,66.59 L313.42,66.19 L313.84,65.78 L314.25,65.38 L314.67,64.97 L315.09,64.56 L315.51,64.15 L315.92,63.74 L316.34,63.33 L316.75,62.92 L317.17,62.50 L317.59,62.09 L318.00,61.67 L318.42,61.25 L318.84,60.83 L319.25,60.41 L319.67,59.99 L320.09,59.56 L320.51,59.14 L320.92,58.71 L321.34,58.29 L321.75,57.86 L322.17,57.43 L322.59,57.00 L323.00,56.57 L323.42,56.14 L323.84,55.70 L324.25,55.26 L324.67,54.83 L325.09,54.39 L325.51,53.95 L325.92,53.50 L326.34,53.06 L326.75,52.62 L327.17,52.18 L327.59,51.73 L328.00,51.28 L328.42,50.83 L328.84,50.38 L329.25,49.93 L329.67,49.47 L330.09,49.02 L330.51,48.56 L330.92,48.11 L331.34,47.65 L331.75,47.19 L332.17,46.73 L332.59,46.27 L333.00,45.81 L333.42,45.33 L333.86,44.84 L334.30,44.33 L334.74,43.82 L335.18,43.31 L335.61,42.80 L336.04,42.31 L336.47,41.82 L336.88,41.36 L337.27,40.92 L337.65,40.50 L338.00,40.13 L338.22,39.90 L338.43,39.69 L338.63,39.49 L338.82,39.30 L339.01,39.12 L339.20,38.94 L339.38,38.77 L339.56,38.60 L339.74,38.43 L339.93,38.26 L340.11,38.08 L340.30,37.90 L340.30,93.40" fill="none" stroke="#0a680a" stroke-width="2.4" stroke-linejoin="round" stroke-linecap="butt"/>
<path d="M59.6,4.3 H376.90000000000003" fill="none" stroke="#000" stroke-width="1.25"/>
<path d="M376.3,4.3 V236.3" fill="none" stroke="#000" stroke-width="1.3"/>
<path d="M61.7,3.6999999999999997 V236.3" fill="none" stroke="#1a1a1a" stroke-width="1.4"/>
<path d="M57.800000000000004,236.3 H376.90000000000003" fill="none" stroke="#000" stroke-width="1.5"/>
<path d="M57.80,236.30 H61.70 M57.80,209.08 H61.70 M57.80,181.85 H61.70 M57.80,154.62 H61.70 M57.80,127.40 H61.70 M57.80,100.18 H61.70 M57.80,72.95 H61.70 M57.80,45.72 H61.70 M57.80,18.50 H61.70 M59.50,222.69 H61.70 M59.50,195.46 H61.70 M59.50,168.24 H61.70 M59.50,141.01 H61.70 M59.50,113.79 H61.70 M59.50,86.56 H61.70 M59.50,59.34 H61.70 M59.50,32.11 H61.70 M71.80,236.30 V240.30 M122.55,236.30 V240.30 M173.30,236.30 V240.30 M224.05,236.30 V240.30 M274.80,236.30 V240.30 M325.55,236.30 V240.30 M376.30,236.30 V240.30 M97.17,236.30 V238.50 M147.92,236.30 V238.50 M198.67,236.30 V238.50 M249.42,236.30 V238.50 M300.17,236.30 V238.50 M350.93,236.30 V238.50" stroke="#000" stroke-width="1.1" fill="none"/>
<text x="54.6" y="239.70" text-anchor="end" font-size="11.7">0</text>
<text x="54.6" y="212.48" text-anchor="end" font-size="11.7">5</text>
<text x="54.6" y="185.25" text-anchor="end" font-size="11.7">10</text>
<text x="54.6" y="158.03" text-anchor="end" font-size="11.7">15</text>
<text x="54.6" y="130.80" text-anchor="end" font-size="11.7">20</text>
<text x="54.6" y="103.58" text-anchor="end" font-size="11.7">25</text>
<text x="54.6" y="76.35" text-anchor="end" font-size="11.7">30</text>
<text x="54.6" y="49.12" text-anchor="end" font-size="11.7">35</text>
<text x="54.6" y="21.90" text-anchor="end" font-size="11.7">40</text>
<text x="72.00" y="253.1" text-anchor="middle" font-size="11.7">0</text>
<text x="122.75" y="253.1" text-anchor="middle" font-size="11.7">50</text>
<text x="173.50" y="253.1" text-anchor="middle" font-size="11.7">100</text>
<text x="224.25" y="253.1" text-anchor="middle" font-size="11.7">150</text>
<text x="275.00" y="253.1" text-anchor="middle" font-size="11.7">200</text>
<text x="325.75" y="253.1" text-anchor="middle" font-size="11.7">250</text>
<text x="376.50" y="253.1" text-anchor="middle" font-size="11.7">300</text>
<text x="82.6" y="27.8" font-size="13.3">(a)</text>
<path d="M273.6,185.3 H300.2" stroke="#000000" stroke-width="2.3"/>
<text x="302.0" y="189.30" font-size="11.3" textLength="46.5" lengthAdjust="spacingAndGlyphs">0 mass%</text>
<path d="M273.6,198.8 H300.2" stroke="#d00c0c" stroke-width="2.3"/>
<text x="302.0" y="202.80" font-size="11.3" textLength="63.2" lengthAdjust="spacingAndGlyphs">0.25 mass%</text>
<path d="M273.6,212.6 H300.2" stroke="#0000b8" stroke-width="2.3"/>
<text x="302.0" y="216.60" font-size="11.3" textLength="63.2" lengthAdjust="spacingAndGlyphs">0.50 mass%</text>
<path d="M273.6,226.7 H300.2" stroke="#0a680a" stroke-width="2.3"/>
<text x="302.0" y="230.70" font-size="11.3" textLength="56.5" lengthAdjust="spacingAndGlyphs">1.0 mass%</text>
</g>
<g font-family="Liberation Serif, serif" font-size="16" fill="#000">
<text x="185.7" y="276.0" font-size="15.5" textLength="66.5" lengthAdjust="spacingAndGlyphs">Strain (%)</text>
<text transform="translate(23.2,168.7) rotate(-90)" x="0" y="0" textLength="83.6" lengthAdjust="spacingAndGlyphs">Stress (MPa)</text>
</g>
<g font-family="Liberation Sans, sans-serif" font-size="12" fill="#595959">
<path d="M388.0,3.3 H747.2 V242.0 H388.0 Z" fill="none" stroke="#222" stroke-width="1.3"/>
<text x="413.0" y="31.0" font-size="13.5" fill="#111">(b)</text>
<path d="M454.5,196.70 H737.0 M454.5,169.98 H737.0 M454.5,143.26 H737.0 M454.5,116.54 H737.0 M454.5,89.82 H737.0 M454.5,63.10 H737.0 M454.5,36.38 H737.0" stroke="#e2e2e2" stroke-width="1" fill="none"/>
<text x="441.0" y="201.30" text-anchor="end" textLength="17.2" lengthAdjust="spacingAndGlyphs">0.0</text>
<text x="441.0" y="174.58" text-anchor="end" textLength="24.4" lengthAdjust="spacingAndGlyphs">20.0</text>
<text x="441.0" y="147.86" text-anchor="end" textLength="24.4" lengthAdjust="spacingAndGlyphs">40.0</text>
<text x="441.0" y="121.14" text-anchor="end" textLength="24.4" lengthAdjust="spacingAndGlyphs">60.0</text>
<text x="441.0" y="94.42" text-anchor="end" textLength="24.4" lengthAdjust="spacingAndGlyphs">80.0</text>
<text x="441.0" y="67.70" text-anchor="end" textLength="31.6" lengthAdjust="spacingAndGlyphs">100.0</text>
<rect x="477.65" y="109.86" width="22.3" height="86.84" fill="#000000"/>
<rect x="548.15" y="89.82" width="22.3" height="106.88" fill="#ff0000"/>
<rect x="619.05" y="98.77" width="22.3" height="97.93" fill="#0070c0"/>
<rect x="689.85" y="76.46" width="22.3" height="120.24" fill="#375623"/>
<path d="M488.80,107.72 V109.86 M486.40,107.72 H491.20" stroke="#858585" stroke-width="1" fill="none"/>
<path d="M488.80,109.86 V112.00 M486.40,112.00 H491.20" stroke="#a0a0a0" stroke-opacity="0.45" stroke-width="1" fill="none"/>
<path d="M559.30,83.14 V89.82 M556.90,83.14 H561.70" stroke="#858585" stroke-width="1" fill="none"/>
<path d="M559.30,89.82 V96.50 M556.90,96.50 H561.70" stroke="#a0a0a0" stroke-opacity="0.45" stroke-width="1" fill="none"/>
<path d="M630.20,89.55 V98.77 M627.80,89.55 H632.60" stroke="#858585" stroke-width="1" fill="none"/>
<path d="M630.20,98.77 V107.99 M627.80,107.99 H632.60" stroke="#a0a0a0" stroke-opacity="0.45" stroke-width="1" fill="none"/>
<path d="M701.00,67.91 V76.46 M698.60,67.91 H703.40" stroke="#858585" stroke-width="1" fill="none"/>
<path d="M701.00,76.46 V85.01 M698.60,85.01 H703.40" stroke="#a0a0a0" stroke-opacity="0.45" stroke-width="1" fill="none"/>
<text x="488.80" y="102.16" text-anchor="middle" fill="#404040" stroke="none" textLength="24.4" lengthAdjust="spacingAndGlyphs">65.0</text>
<text x="488.80" y="219.4" text-anchor="middle" textLength="7.0" lengthAdjust="spacingAndGlyphs">0</text>
<text x="559.30" y="82.12" text-anchor="middle" fill="#404040" stroke="none" textLength="24.4" lengthAdjust="spacingAndGlyphs">80.0</text>
<text x="559.30" y="219.4" text-anchor="middle" textLength="24.4" lengthAdjust="spacingAndGlyphs">0.25</text>
<text x="630.20" y="91.07" text-anchor="middle" fill="#404040" stroke="none" textLength="24.4" lengthAdjust="spacingAndGlyphs">73.3</text>
<text x="630.20" y="219.4" text-anchor="middle" textLength="24.4" lengthAdjust="spacingAndGlyphs">0.50</text>
<text x="701.00" y="68.76" text-anchor="middle" fill="#404040" stroke="none" textLength="24.4" lengthAdjust="spacingAndGlyphs">90.0</text>
<text x="701.00" y="219.4" text-anchor="middle" textLength="17.2" lengthAdjust="spacingAndGlyphs">1.0</text>
<text x="492.8" y="236.7" textLength="203.2" lengthAdjust="spacingAndGlyphs">Carbon Nanotubes content (mass%)</text>
<text transform="translate(408.6,165.2) rotate(-90)" x="0" y="0" textLength="83.5" lengthAdjust="spacingAndGlyphs">Modulus (MPa)</text>
</g>
</svg></body></html>
